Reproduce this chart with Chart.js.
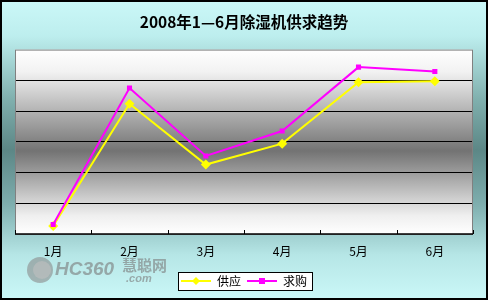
<!DOCTYPE html>
<html>
<head>
<meta charset="utf-8">
<script src="https://cdn.jsdelivr.net/npm/chart.js@4.4.1/dist/chart.umd.min.js"></script>
<style>
html,body{margin:0;padding:0;background:#c0f0f0;}
#wrap{width:488px;height:300px;position:relative;}
canvas{display:block;}
</style>
</head>
<body>
<div id="wrap"><canvas id="c" width="488" height="300"></canvas></div>
<script>
const chartTitle = '2008年1—6月除湿机供求趋势';
const months = ['1月', '2月', '3月', '4月', '5月', '6月'];
const supplyName = '供应';
const demandName = '求购';
const supply = [0.26, 4.24, 2.26, 2.94, 4.94, 4.97];
const demand = [0.31, 4.75, 2.54, 3.35, 5.43, 5.29];
const yMin = 0, yMax = 6, yStep = 1;

const FONT = '"Noto Sans CJK SC", "Noto Sans", sans-serif';

function legendIcon(color, shape) {
  const c = document.createElement('canvas');
  c.width = 30; c.height = 12;
  const g = c.getContext('2d');
  g.strokeStyle = color; g.lineWidth = 2;
  g.beginPath(); g.moveTo(0, 6); g.lineTo(30, 6); g.stroke();
  g.fillStyle = color;
  if (shape === 'diamond') {
    g.beginPath(); g.moveTo(15, 2); g.lineTo(19, 6); g.lineTo(15, 10); g.lineTo(11, 6); g.closePath(); g.fill();
  } else {
    g.fillRect(12, 3, 6, 6);
  }
  return c;
}
const icons = [legendIcon('#ffff00', 'diamond'), legendIcon('#ff00ff', 'square')];

const decor = {
  id: 'decor',
  beforeDraw(chart) {
    const ctx = chart.ctx, W = chart.width, H = chart.height, a = chart.chartArea;
    ctx.save();
    let g = ctx.createLinearGradient(0, 0, 0, H);
    g.addColorStop(0, '#cbf8f8');
    g.addColorStop(0.12, '#bdeeee');
    g.addColorStop(0.33, '#80b0ae');
    g.addColorStop(0.5, '#5c8786');
    g.addColorStop(0.68, '#7eaeae');
    g.addColorStop(0.85, '#b6e6e6');
    g.addColorStop(1, '#cbf8f8');
    ctx.fillStyle = g;
    ctx.fillRect(0, 0, W, H);
    let p = ctx.createLinearGradient(0, a.top, 0, a.bottom);
    p.addColorStop(0, '#ffffff');
    p.addColorStop(0.12, '#f2f2f2');
    p.addColorStop(0.55, '#737373');
    p.addColorStop(0.9, '#efefef');
    p.addColorStop(1, '#ffffff');
    ctx.fillStyle = p;
    ctx.fillRect(a.left, a.top, a.right - a.left, a.bottom - a.top);
    // watermark
    ctx.globalAlpha = 0.6;
    ctx.fillStyle = '#8a8a8a';
    ctx.beginPath(); ctx.arc(40, 270, 13, 0, Math.PI * 2); ctx.fill();
    ctx.fillStyle = '#c0c0c0';
    ctx.beginPath(); ctx.arc(42, 270, 9, 0, Math.PI * 2); ctx.fill();
    ctx.fillStyle = '#7a7a7a';
    ctx.font = 'italic bold 19px "Liberation Sans", sans-serif';
    ctx.textBaseline = 'middle';
    ctx.fillText('HC360', 55, 270);
    ctx.font = 'bold 15px ' + FONT;
    ctx.fillText('慧聪网', 122, 265);
    ctx.font = 'italic bold 11px "Liberation Sans", sans-serif';
    ctx.fillText('.com', 126, 279);
    ctx.globalAlpha = 1;
    // legend box
    const lg = chart.legend;
    if (lg && lg.legendHitBoxes && lg.legendHitBoxes.length) {
      const hb = lg.legendHitBoxes;
      let l = Infinity, r = -Infinity, t = Infinity, b = -Infinity;
      hb.forEach(x => { l = Math.min(l, x.left); r = Math.max(r, x.left + x.width); t = Math.min(t, x.top); b = Math.max(b, x.top + x.height); });
      ctx.fillStyle = '#ffffff';
      ctx.fillRect(l - 3, t - 3, r - l + 9, b - t + 7);
      ctx.strokeStyle = '#000'; ctx.lineWidth = 1;
      ctx.strokeRect(l - 3 + 0.5, t - 3 + 0.5, r - l + 8, b - t + 6);
    }
    ctx.restore();
  },
  beforeDatasetsDraw(chart) {
    const ctx = chart.ctx, a = chart.chartArea, xs = chart.scales.x;
    ctx.save();
    ctx.strokeStyle = '#808080'; ctx.lineWidth = 1;
    ctx.strokeRect(a.left + 0.5, a.top + 0.5, a.right - a.left - 1, a.bottom - a.top);
    const n = months.length;
    const step = (xs.getPixelForValue(1) - xs.getPixelForValue(0));
    ctx.strokeStyle = '#000';
    for (let i = 0; i <= n; i++) {
      const x = Math.round(xs.getPixelForValue(i) - step / 2) + 0.5;
      ctx.beginPath(); ctx.moveTo(x, a.bottom - 4); ctx.lineTo(x, a.bottom); ctx.stroke();
    }
    ctx.beginPath(); ctx.moveTo(a.left, a.bottom); ctx.lineTo(a.right, a.bottom); ctx.lineWidth = 1.5; ctx.stroke();
    ctx.restore();
  },
  afterDraw(chart) {
    const ctx = chart.ctx;
    ctx.save();
    ctx.strokeStyle = '#000'; ctx.lineWidth = 2;
    ctx.strokeRect(1, 1, chart.width - 2, chart.height - 2);
    ctx.restore();
  }
};

new Chart(document.getElementById('c'), {
  type: 'line',
  data: {
    labels: months,
    datasets: [
      {
        label: supplyName, data: supply, order: 1,
        borderColor: '#ffff00', backgroundColor: '#ffff00', borderWidth: 2,
        pointStyle: 'rectRot', pointRadius: 5, pointBorderWidth: 0, tension: 0
      },
      {
        label: demandName, data: demand, order: 0,
        borderColor: '#ff00ff', backgroundColor: '#ff00ff', borderWidth: 2,
        pointStyle: 'rect', pointRadius: 3.6, pointBorderWidth: 0, tension: 0
      }
    ]
  },
  options: {
    responsive: false,
    animation: false,
    devicePixelRatio: 1,
    layout: { padding: { left: 15, right: 15, top: 0, bottom: 3 } },
    scales: {
      x: {
        type: 'category', offset: true,
        grid: { display: false, drawTicks: false },
        border: { display: false },
        ticks: { color: '#000', padding: 10, font: { size: 12, family: FONT } },
        afterFit(s) { s.height = 35; }
      },
      y: {
        min: yMin, max: yMax,
        ticks: { display: false, stepSize: yStep },
        grid: {
          drawTicks: false, lineWidth: 1,
          color: ctx => (ctx.tick && (ctx.tick.value === yMax || ctx.tick.value === yMin)) ? 'rgba(0,0,0,0)' : '#000'
        },
        border: { display: false },
        afterFit(s) { s.width = 0; }
      }
    },
    plugins: {
      title: {
        display: true, text: chartTitle, color: '#000',
        font: { size: 15.5, weight: 'bold', family: FONT },
        padding: { top: 13, bottom: 18 }
      },
      legend: {
        display: true, position: 'bottom',
        labels: {
          color: '#000', font: { size: 12, family: FONT },
          usePointStyle: true, pointStyleWidth: 30, padding: 6,
          sort: (a, b) => a.datasetIndex - b.datasetIndex,
          generateLabels(chart) {
            const items = Chart.defaults.plugins.legend.labels.generateLabels(chart);
            items.forEach(it => { it.pointStyle = icons[it.datasetIndex]; });
            return items;
          }
        }
      },
      tooltip: { enabled: false }
    }
  },
  plugins: [decor]
});
</script>
</body>
</html>
